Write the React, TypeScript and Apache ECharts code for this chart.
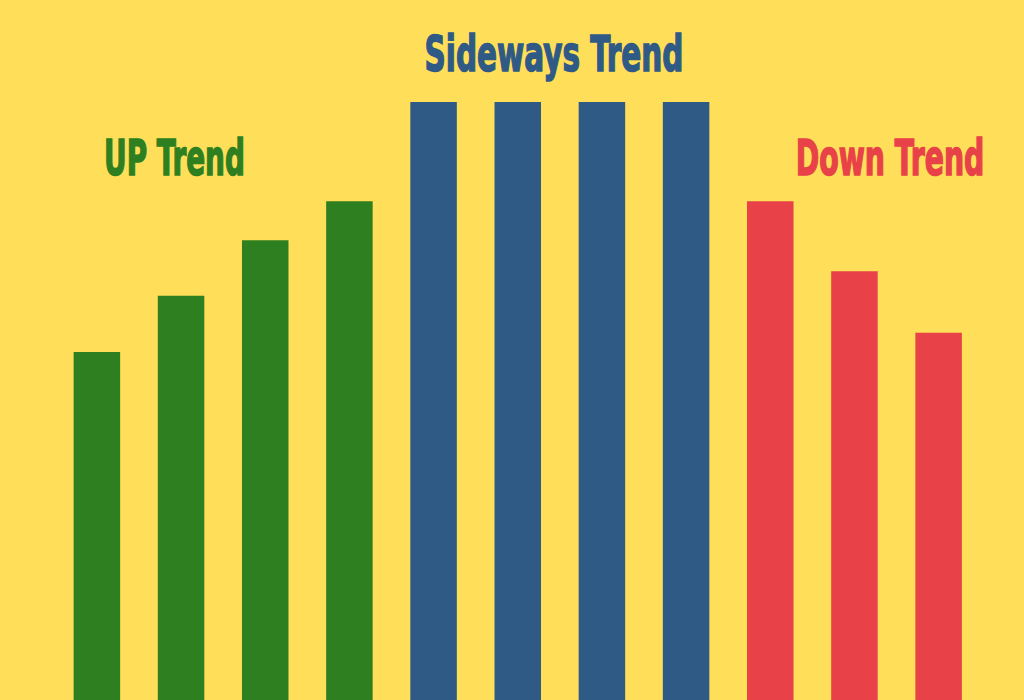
import React, { useEffect, useRef } from "react";
import * as echarts from "echarts";

const categories = ["U1", "U2", "U3", "U4", "S1", "S2", "S3", "S4", "D1", "D2", "D3"];
const values = [58.2, 67.6, 76.9, 83.4, 100, 100, 100, 100, 83.4, 71.7, 61.4];
const groups = ["up", "up", "up", "up", "side", "side", "side", "side", "down", "down", "down"];
const groupColors: Record<string, string> = { up: "#2E7F20", side: "#2F5A85", down: "#E84147" };
const labels = [
  { text: "UP Trend", group: "up", x: 174.5, y: 158, sx: 0.62 },
  { text: "Sideways Trend", group: "side", x: 554, y: 54, sx: 0.656 },
  { text: "Down Trend", group: "down", x: 890, y: 158, sx: 0.63 },
];

const FONT = "'DejaVu Sans Condensed', 'Liberation Sans Narrow', sans-serif";

export default function App() {
  const ref = useRef<HTMLDivElement>(null);
  useEffect(() => {
    if (!ref.current) return;
    const chart = echarts.init(ref.current, null, { renderer: "svg" });
    chart.setOption({
      animation: false,
      backgroundColor: "#FFDE5A",
      grid: { left: 54.8, right: 43.3, top: 102, bottom: 0, containLabel: false },
      xAxis: {
        type: "category",
        data: categories,
        show: false,
      },
      yAxis: { type: "value", min: 0, max: 100, show: false },
      series: [
        {
          type: "bar",
          barWidth: 46.5,
          data: values.map((v, i) => ({ value: v, itemStyle: { color: groupColors[groups[i]] } })),
        },
      ],
      graphic: labels.map((l) => ({
        type: "text",
        x: l.x,
        y: l.y,
        scaleX: l.sx,
        style: {
          text: l.text,
          fill: groupColors[l.group],
          stroke: groupColors[l.group],
          lineWidth: 1.5,
          font: `bold 50px ${FONT}`,
          textAlign: "center",
          textVerticalAlign: "middle",
        },
      })),
    });
    return () => chart.dispose();
  }, []);
  return <div ref={ref} style={{ position: "fixed", left: 0, top: 0, width: 1024, height: 700 }} />;
}
